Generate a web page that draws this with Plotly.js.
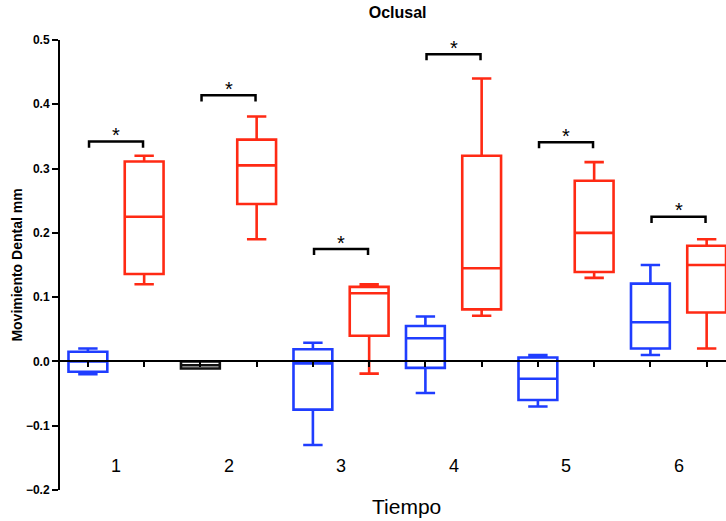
<!DOCTYPE html>
<html>
<head>
<meta charset="utf-8">
<script src="https://cdn.plot.ly/plotly-3.0.1.min.js"></script>
<style>html,body{margin:0;padding:0;background:#fff;}#chart{width:726px;height:521px;}</style>
</head>
<body>
<div id="chart"></div>
<script>
// ---- data ----
const tiempos = ['1', '2', '3', '4', '5', '6'];

const azulMin = [-0.020, -0.011, -0.130, -0.049, -0.070, 0.010];
const azulQ1  = [-0.016, -0.011, -0.075, -0.010, -0.060, 0.020];
const azulMed = [ 0.000, -0.006, -0.003,  0.036, -0.027, 0.061];
const azulQ3  = [ 0.015,  0.000,  0.019,  0.055,  0.006, 0.121];
const azulMax = [ 0.020,  0.000,  0.029,  0.070,  0.010, 0.150];

const rojoMin = [0.120, 0.190, -0.019, 0.071, 0.130, 0.020];
const rojoQ1  = [0.136, 0.245,  0.040, 0.081, 0.139, 0.076];
const rojoMed = [0.225, 0.305,  0.106, 0.145, 0.200, 0.150];
const rojoQ3  = [0.311, 0.345,  0.116, 0.320, 0.281, 0.180];
const rojoMax = [0.320, 0.381,  0.120, 0.440, 0.310, 0.190];

const sigAltura = [0.342, 0.414, 0.175, 0.478, 0.341, 0.225];
const sigTexto  = ['*', '*', '*', '*', '*', '*'];

// ---- styling ----
const BLUE = '#1f3dff', RED = '#ff2a14', BLACK = '#111111';
const FONT = 'Liberation Sans, Arial, Helvetica, sans-serif';
const OFF = 0.25, BOXW = 0.345;
const darkGroups = [1]; // group drawn in black in the reference

const gx = tiempos.map((t, i) => i + 1);
const xb = gx.map(g => g - OFF);
const xr = gx.map(g => g + OFF);

function pick(arr, idx) { return idx.map(i => arr[i]); }
const allIdx = gx.map((g, i) => i);
const idxBlue = allIdx.filter(i => !darkGroups.includes(i));
const idxDark = darkGroups;

function boxTrace(name, idx, xs, mn, q1, md, q3, mx, color) {
  return {
    type: 'box', name: name,
    x: pick(xs, idx), q1: pick(q1, idx), median: pick(md, idx), q3: pick(q3, idx),
    lowerfence: pick(mn, idx), upperfence: pick(mx, idx),
    width: BOXW, whiskerwidth: 0.5, boxpoints: false,
    line: { color: color, width: 2.6 }, fillcolor: 'rgba(255,255,255,0)',
    showlegend: false, hoverinfo: 'skip'
  };
}
const traces = [
  boxTrace('Azul', idxBlue, xb, azulMin, azulQ1, azulMed, azulQ3, azulMax, BLUE),
  boxTrace('Azul', idxDark, xb, azulMin, azulQ1, azulMed, azulQ3, azulMax, BLACK),
  boxTrace('Rojo', allIdx, xr, rojoMin, rojoQ1, rojoMed, rojoQ3, rojoMax, RED)
];

const DROP = 0.0095;
const shapes = gx.map((g, i) => ({
  type: 'path', xref: 'x', yref: 'y',
  path: `M ${xb[i] + 0.01},${sigAltura[i] - DROP} L ${xb[i] + 0.01},${sigAltura[i]} L ${xr[i] - 0.01},${sigAltura[i]} L ${xr[i] - 0.01},${sigAltura[i] - DROP}`,
  line: { color: '#000', width: 2.5 }
}));

const annotations = [];
gx.forEach((g, i) => {
  annotations.push({
    x: g, y: sigAltura[i] + 0.010, xref: 'x', yref: 'y', text: sigTexto[i],
    showarrow: false, yanchor: 'middle', font: { family: FONT, size: 20, color: '#000' }
  });
  annotations.push({
    x: g, y: -0.163, xref: 'x', yref: 'y', text: tiempos[i],
    showarrow: false, yanchor: 'middle', font: { family: FONT, size: 18, color: '#000' }
  });
});
annotations.push({
  x: 0.521, y: -(507 - 490) / 450, xref: 'paper', yref: 'paper', text: 'Tiempo', showarrow: false,
  yanchor: 'middle', font: { family: FONT, size: 21, color: '#000' }
});

const layout = {
  width: 726, height: 521,
  margin: { l: 60, r: 0, t: 40, b: 31, pad: 0 },
  paper_bgcolor: '#fff', plot_bgcolor: '#fff',
  font: { family: FONT, color: '#000' },
  title: {
    text: '<b>Oclusal</b>', x: 0.507, xref: 'paper', y: 1 - 12 / 521, yref: 'container',
    xanchor: 'center', yanchor: 'middle', font: { family: FONT, size: 16, color: '#000' }
  },
  xaxis: {
    range: [0.502, 6.422], anchor: 'free', position: 0.2 / 0.7,
    showline: true, linecolor: '#000', linewidth: 2,
    showgrid: false, zeroline: false,
    tickmode: 'array', tickvals: xb.concat(xr), ticktext: xb.concat(xr).map(() => ''),
    ticks: 'outside', ticklen: 5, tickwidth: 2, tickcolor: '#000', showticklabels: false,
    fixedrange: true
  },
  yaxis: {
    range: [-0.2, 0.5], tickmode: 'linear', tick0: -0.2, dtick: 0.1, tickformat: '.1f',
    showline: true, linecolor: '#000', linewidth: 2,
    showgrid: false, zeroline: false,
    ticks: 'outside', ticklen: 6, tickwidth: 2, tickcolor: '#000',
    tickfont: { family: FONT, size: 12, color: '#000', weight: 'bold' },
    title: { text: '<b>Movimiento Dental mm</b>', standoff: 0, font: { family: FONT, size: 14, color: '#000' } },
    automargin: false, fixedrange: true
  },
  shapes: shapes,
  annotations: annotations,
  showlegend: false
};

Plotly.newPlot('chart', traces, layout, { displayModeBar: false, staticPlot: true });
</script>
</body>
</html>
